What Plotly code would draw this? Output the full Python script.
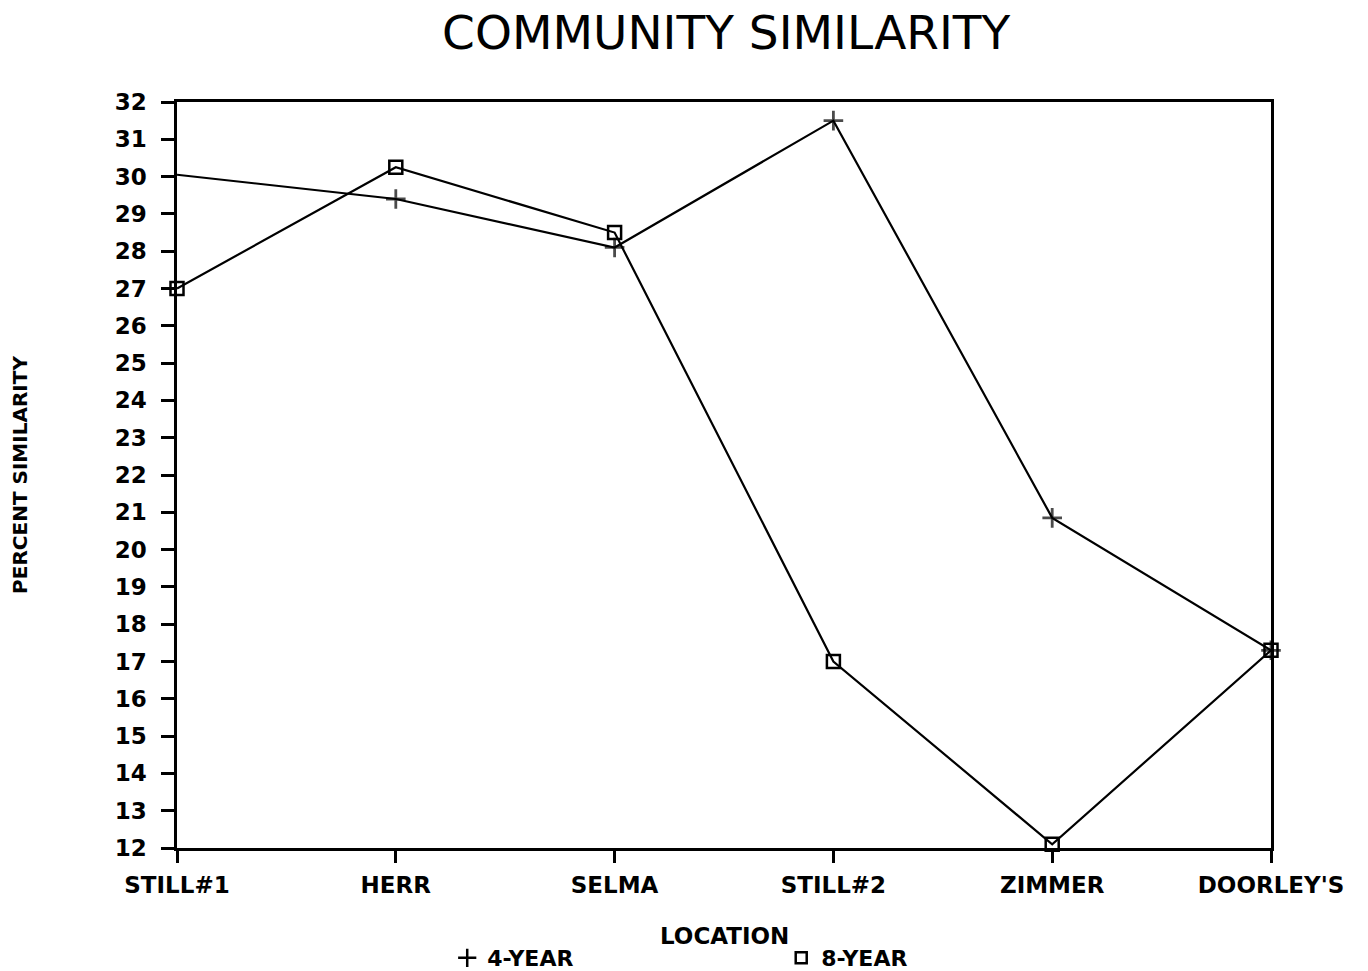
import plotly.graph_objects as go

locations = ["STILL#1", "HERR", "SELMA", "STILL#2", "ZIMMER", "DOORLEY'S"]
four_year = [30.05, 29.4, 28.1, 31.5, 20.85, 17.3]
eight_year = [27.0, 30.25, 28.5, 17.0, 12.1, 17.3]
y_ticks = list(range(12, 33))

FONT = "DejaVu Sans"
bold = dict(family=FONT, size=23, color="black", weight="bold")

fig = go.Figure()
fig.add_trace(go.Scatter(
    x=locations, y=four_year, mode="lines+markers", name="4-YEAR",
    line=dict(color="black", width=2.2),
    marker=dict(symbol="cross-thin", size=[0, 14, 14, 14, 14, 14],
                line=dict(color="black", width=2.8)),
    showlegend=False, cliponaxis=False))
fig.add_trace(go.Scatter(
    x=locations, y=eight_year, mode="lines+markers", name="8-YEAR",
    line=dict(color="black", width=2.2),
    marker=dict(symbol="square-open", size=13, color="black",
                line=dict(color="black", width=2.5)),
    showlegend=False, cliponaxis=False))
# legend-only entries (marker symbols only)
fig.add_trace(go.Scatter(x=[None], y=[None], mode="markers", name="4-YEAR",
                         marker=dict(symbol="cross-thin", size=13,
                                     line=dict(color="black", width=2.5))))
fig.add_trace(go.Scatter(x=[None], y=[None], mode="markers", name="8-YEAR",
                         marker=dict(symbol="square-open", size=11, color="black",
                                     line=dict(color="black", width=2.5))))

fig.update_layout(
    width=1368, height=971,
    margin=dict(l=169, r=105, t=94, b=131),
    paper_bgcolor="white", plot_bgcolor="white",
    title=dict(text="COMMUNITY SIMILARITY", x=0.525, xanchor="center",
               y=0.992, yanchor="top", yref="container",
               font=dict(family=FONT, size=47, color="black")),
    legend=dict(orientation="h", x=0.247, xanchor="left",
                y=0.0216, yanchor="middle", yref="container",
                font=dict(family=FONT, size=22, color="black", weight="bold"),
                entrywidth=289, entrywidthmode="pixels",
                bgcolor="rgba(0,0,0,0)", itemclick=False),
    showlegend=True,
    annotations=[dict(text="LOCATION", xref="paper", yref="paper",
                      x=0.5, y=-0.118, xanchor="center", yanchor="middle",
                      showarrow=False, font=bold)],
)
fig.update_xaxes(
    type="category", range=[0, 5], showgrid=False, zeroline=False,
    showline=True, linecolor="black", linewidth=2.5, mirror=True,
    ticks="outside", ticklen=12, tickwidth=2.5, tickcolor="black",
    tickfont=bold, ticklabelstandoff=3, automargin=False,
)
fig.update_yaxes(
    range=[12, 32], tickvals=y_ticks, showgrid=False, zeroline=False,
    showline=True, linecolor="black", linewidth=2.5, mirror=True,
    ticks="outside", ticklen=13, tickwidth=2.5, tickcolor="black",
    tickfont=bold, ticklabelstandoff=10, automargin=False,
    title=dict(text="PERCENT SIMILARITY", font=dict(family=FONT, size=20, color="black", weight="bold"), standoff=87),
)

fig.write_html("out.html")
